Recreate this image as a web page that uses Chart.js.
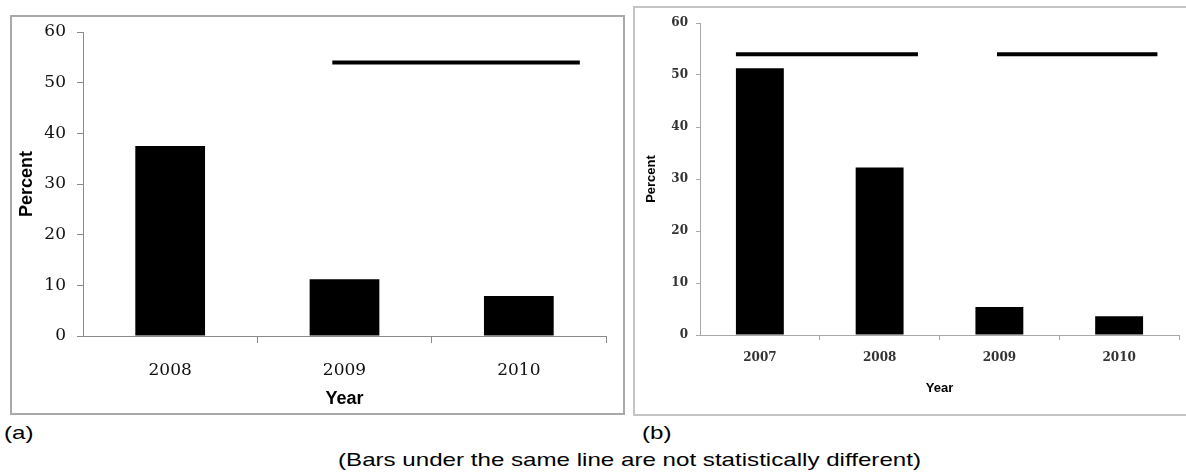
<!DOCTYPE html>
<html>
<head>
<meta charset="utf-8">
<script src="https://cdn.jsdelivr.net/npm/chart.js@4/dist/chart.umd.min.js"></script>
<style>
  html, body { margin: 0; padding: 0; background: #fff; }
  body { width: 1186px; height: 472px; position: relative; overflow: hidden; }
  .frame { position: absolute; box-sizing: border-box; }
  #frameA { left: 10px; top: 15px; width: 615px; height: 400px; border: 2px solid #a9a9a9; }
  #frameB { left: 633px; top: 6px; width: 560px; height: 410px; border: 2px solid #c4c4c4; }
  canvas { position: absolute; top: 0; }
  #chartA { left: 0; }
  #chartB { left: 630px; }
  .txt { position: absolute; font-family: "Liberation Sans", Arial, sans-serif; font-size: 19px; line-height: 19px; color: #000; white-space: nowrap; transform: scaleX(1.27); transform-origin: 0 0; }
  #labA { left: 4px; top: 423px; }
  #labB { left: 642px; top: 423px; }
  #note { left: 338px; top: 450px; }
</style>
</head>
<body>
<div class="frame" id="frameA"></div>
<div class="frame" id="frameB"></div>
<canvas id="chartA" width="630" height="420"></canvas>
<canvas id="chartB" width="556" height="420"></canvas>
<div class="txt" id="labA">(a)</div>
<div class="txt" id="labB">(b)</div>
<div class="txt" id="note">(Bars under the same line are not statistically different)</div>
<script>
// Panel (a): share of samples per year
const yearsA = ['2008', '2009', '2010'];
const percentA = [37.5, 11.2, 7.9];
// Panel (b)
const yearsB = ['2007', '2008', '2009', '2010'];
const percentB = [51.3, 32.2, 5.4, 3.6];

// Grouping bars that do not differ: start/end in category units, height in percent
const groupStartA = [0.93];
const groupEndA = [2.35];
const groupLevelA = [54];
const groupStartB = [-0.2, 1.98];
const groupEndB = [1.32, 3.32];
const groupLevelB = [54, 54];

const yTicks = [0, 10, 20, 30, 40, 50, 60];

// Draws the horizontal "same group" bars above the columns
const groupLines = {
  id: 'groupLines',
  afterDatasetsDraw(chart, args, opts) {
    const { ctx, scales: { x, y } } = chart;
    ctx.save();
    ctx.strokeStyle = '#000';
    ctx.lineWidth = opts.width;
    ctx.lineCap = 'butt';
    opts.start.forEach((s, i) => {
      const x1 = x.getPixelForValue(s);
      const x2 = x.getPixelForValue(opts.end[i]);
      const yy = y.getPixelForValue(opts.level[i]);
      ctx.beginPath();
      ctx.moveTo(x1, yy);
      ctx.lineTo(x2, yy);
      ctx.stroke();
    });
    ctx.restore();
  }
};

function makeChart(id, labels, values, lines, cfg) {
  return new Chart(document.getElementById(id), {
    type: 'bar',
    data: {
      labels: labels,
      datasets: [{
        data: values,
        backgroundColor: '#000',
        borderWidth: 0,
        categoryPercentage: 1,
        barPercentage: 0.4
      }]
    },
    options: {
      responsive: false,
      animation: false,
      events: [],
      layout: { padding: cfg.padding },
      plugins: {
        legend: { display: false },
        tooltip: { enabled: false },
        groupLines: { start: lines.start, end: lines.end, level: lines.level, width: cfg.lineWidth }
      },
      scales: {
        x: {
          offset: true,
          afterFit(s) { s.height = cfg.xHeight; },
          grid: {
            drawOnChartArea: false,
            offset: true,
            tickLength: cfg.xTickLen,
            color: c => (c.index === 0 ? 'rgba(0,0,0,0)' : cfg.axisColor)
          },
          border: { color: cfg.axisColor, width: 1 },
          ticks: { color: cfg.tickColor, font: cfg.tickFontX, padding: cfg.xTickPad },
          title: {
            display: true, text: 'Year', color: '#000',
            font: cfg.titleFont, padding: cfg.xTitlePad
          }
        },
        y: {
          min: 0, max: 60,
          afterFit(s) { s.width = cfg.yWidth; },
          afterBuildTicks(s) { s.ticks = yTicks.map(v => ({ value: v })); },
          grid: { drawOnChartArea: false, tickLength: cfg.yTickLen, color: cfg.axisColor },
          border: { color: cfg.axisColor, width: 1 },
          ticks: { color: cfg.tickColor, font: cfg.tickFontY, padding: cfg.yTickPad },
          title: {
            display: true, text: 'Percent', color: '#000',
            font: cfg.titleFont, padding: cfg.yTitlePad
          }
        }
      }
    },
    plugins: [groupLines]
  });
}

makeChart('chartA', yearsA, percentA,
  { start: groupStartA, end: groupEndA, level: groupLevelA },
  {
    padding: { top: 32, right: 24, left: 0, bottom: 0 },
    xHeight: 84, yWidth: 83,
    xTickLen: 7, yTickLen: 6,
    xTickPad: 17, yTickPad: 11,
    xTitlePad: 10, yTitlePad: 16,
    axisColor: '#8a8a8a', tickColor: '#111',
    tickFontX: { family: '"DejaVu Serif", serif', size: 17 },
    tickFontY: { family: '"DejaVu Serif", serif', size: 17 },
    titleFont: { family: '"Liberation Sans", Arial, sans-serif', size: 18, weight: 'bold' },
    lineWidth: 4
  });

makeChart('chartB', yearsB, percentB,
  { start: groupStartB, end: groupEndB, level: groupLevelB },
  {
    padding: { top: 23, right: 7, left: 0, bottom: 0 },
    xHeight: 85, yWidth: 70,
    xTickLen: 5, yTickLen: 4,
    xTickPad: 11, yTickPad: 8,
    xTitlePad: 24, yTitlePad: 14,
    axisColor: '#a8a8a8', tickColor: '#333',
    tickFontX: { family: '"DejaVu Serif", serif', size: 12, weight: 'bold' },
    tickFontY: { family: '"DejaVu Serif", serif', size: 12, weight: 'bold' },
    titleFont: { family: '"Liberation Sans", Arial, sans-serif', size: 13, weight: 'bold' },
    lineWidth: 4
  });
</script>
</body>
</html>
